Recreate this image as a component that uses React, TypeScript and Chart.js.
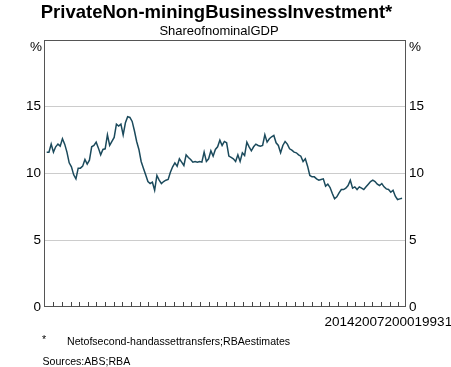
import { useEffect, useRef } from "react";
import { Chart, registerables } from "chart.js";

Chart.register(...registerables);

// Quarterly observations, share of nominal GDP (%)
const startYear = 1980;
const values = [
  11.6, 11.6, 12.2, 11.6, 12.0, 12.2, 12.05, 12.6, 12.2, 11.6,
  10.8, 10.5, 9.9, 9.6, 10.4, 10.4, 10.55, 11.05, 10.7, 11.0,
  12.0, 12.1, 12.35, 11.9, 11.4, 11.8, 11.85, 12.9, 12.1, 12.4,
  12.7, 13.7, 13.55, 13.7, 12.9, 13.8, 14.25, 14.2, 13.9, 13.2,
  12.4, 11.8, 10.9, 10.4, 9.9, 9.4, 9.25, 9.35, 8.75, 9.85,
  9.5, 9.25, 9.4, 9.5, 9.55, 10.1, 10.5, 10.8, 10.55, 11.1,
  10.85, 10.6, 11.4, 11.2, 11.05, 10.85, 10.9, 10.85, 10.9, 10.85,
  11.6, 10.9, 11.1, 11.7, 11.3, 11.8, 12.0, 12.5, 12.1, 12.4,
  12.3, 11.3, 11.2, 11.1, 10.9, 11.4, 10.9, 11.55, 11.35, 12.35,
  12.0, 11.7, 12.0, 12.2, 12.1, 12.05, 12.1, 12.9, 12.35, 12.6,
  12.75, 12.85, 12.3, 12.1, 11.55, 12.1, 12.4, 12.2, 11.85, 11.75,
  11.6, 11.55, 11.4, 11.3, 10.9, 11.1, 10.55, 9.85, 9.75, 9.75,
  9.6, 9.5, 9.55, 9.6, 9.05, 9.2, 8.95, 8.5, 8.1, 8.25,
  8.55, 8.8, 8.8, 8.9, 9.1, 9.5, 8.9, 9.0, 8.8, 9.0,
  8.9, 8.8, 9.0, 9.2, 9.4, 9.5, 9.4, 9.2, 9.1, 9.25,
  9.0, 8.85, 8.8, 8.6, 8.75, 8.3, 8.05, 8.1, 8.15,
];
const yTickValues = [0, 5, 10, 15, 20];
const xLabels = ["2014", "2007", "2000", "1993", "1986"];
const titleText = "PrivateNon-miningBusinessInvestment*";
const subtitleText = "ShareofnominalGDP";
const unitLabel = "%";
const footnoteMark = "*";
const footnoteText = "Netofsecond-handassettransfers;RBAestimates";
const sourcesText = "Sources:ABS;RBA";

const FONT = '"Liberation Sans", Arial, Helvetica, sans-serif';
const LINE_COLOR = "#1b4a5c";
const BORDER_COLOR = "#555555";
const GRID_COLOR = "#cccccc";
const MINOR_TICKS = 41;

const overlay = {
  id: "overlay",
  afterDraw(chart: any) {
    const { ctx, chartArea } = chart;
    const { left, right, top, bottom } = chartArea;
    ctx.save();
    // plot frame
    ctx.strokeStyle = BORDER_COLOR;
    ctx.lineWidth = 1;
    ctx.strokeRect(Math.round(left) + 0.5, Math.round(top) + 0.5, Math.round(right - left) - 1, Math.round(bottom - top) - 1);
    // inner x ticks
    const xs = chart.scales.x;
    ctx.strokeStyle = "#444444";
    ctx.beginPath();
    xs.ticks.forEach((t: any) => {
      const px = Math.round(xs.getPixelForValue(t.value)) + 0.5;
      ctx.moveTo(px, bottom - 0.5);
      ctx.lineTo(px, bottom - 5);
    });
    ctx.stroke();

    ctx.fillStyle = "#000000";
    // title & subtitle
    ctx.textBaseline = "alphabetic";
    ctx.textAlign = "center";
    ctx.font = `bold 18.5px ${FONT}`;
    ctx.fillText(titleText, 216.5, 17.5);
    ctx.font = `13px ${FONT}`;
    ctx.fillText(subtitleText, 219, 35);

    // unit labels
    ctx.font = `13.5px ${FONT}`;
    ctx.textBaseline = "middle";
    ctx.textAlign = "right";
    ctx.fillText(unitLabel, 42, 47.5);
    ctx.textAlign = "left";
    ctx.fillText(unitLabel, 409, 47.5);

    // x labels (overlapping, as in the original)
    ctx.textBaseline = "alphabetic";
    ctx.textAlign = "left";
    let xp = 324.5;
    xLabels.forEach((s) => {
      ctx.fillText(s, xp, 326);
      xp += ctx.measureText(s).width;
    });

    // footnotes
    ctx.font = `10.6px ${FONT}`;
    ctx.fillText(footnoteMark, 42, 343);
    ctx.fillText(footnoteText, 67, 345);
    ctx.fillText(sourcesText, 42.5, 365);
    ctx.restore();
  },
};

export default function App() {
  const ref = useRef<HTMLCanvasElement>(null);

  useEffect(() => {
    if (!ref.current) return;
    const points = values.map((v, i) => ({ x: startYear + i * 0.25, y: v }));
    const xMin = 1979.7;
    const xMax = 2019.94;
    const yTickCfg = {
      display: true,
      padding: 3,
      color: "#000000",
      font: { size: 13.5, family: FONT },
      callback: (v: any) => (v === 20 ? "" : String(v)),
    };
    const chart = new Chart(ref.current, {
      type: "line",
      data: {
        datasets: [
          {
            data: points,
            borderColor: LINE_COLOR,
            borderWidth: 1.5,
            pointRadius: 0,
            tension: 0,
            fill: false,
          },
        ],
      },
      options: {
        animation: false,
        responsive: false,
        devicePixelRatio: 1,
        layout: { padding: { top: 40, left: 0, right: 0, bottom: 0 } },
        plugins: {
          legend: { display: false },
          tooltip: { enabled: false },
          title: { display: false },
        },
        scales: {
          x: {
            type: "linear",
            min: xMin,
            max: xMax,
            ticks: { display: false },
            grid: { display: false },
            border: { display: false },
            afterBuildTicks: (scale: any) => {
              const span = xMax - xMin;
              const step = span * (8.625 / 362);
              const first = xMin + span * (9.3 / 362);
              scale.ticks = Array.from({ length: MINOR_TICKS }, (_, k) => ({ value: first + k * step }));
            },
            afterFit: (scale: any) => {
              scale.height = 60;
            },
          },
          y: {
            position: "left",
            min: 0,
            max: 20,
            afterBuildTicks: (scale: any) => {
              scale.ticks = yTickValues.map((v) => ({ value: v }));
            },
            ticks: yTickCfg,
            grid: {
              drawTicks: false,
              color: (c: any) => (c.tick && (c.tick.value === 0 || c.tick.value === 20) ? "rgba(0,0,0,0)" : GRID_COLOR),
              lineWidth: 1,
            },
            border: { display: false },
            afterFit: (scale: any) => {
              scale.width = 44;
            },
          },
          y2: {
            position: "right",
            min: 0,
            max: 20,
            afterBuildTicks: (scale: any) => {
              scale.ticks = yTickValues.map((v) => ({ value: v }));
            },
            ticks: yTickCfg,
            grid: { display: false, drawTicks: false },
            border: { display: false },
            afterFit: (scale: any) => {
              scale.width = 45;
            },
          },
        },
      },
      plugins: [overlay],
    });
    return () => chart.destroy();
  }, []);

  return (
    <div style={{ position: "absolute", left: 0, top: 0, width: 451, height: 367, overflow: "hidden", background: "#ffffff" }}>
      <canvas ref={ref} width={451} height={367} style={{ display: "block" }} />
    </div>
  );
}
